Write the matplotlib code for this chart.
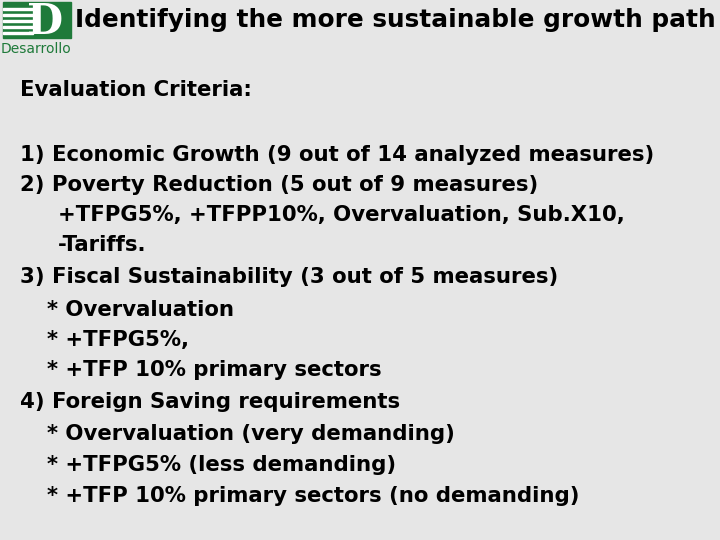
import matplotlib
matplotlib.use("Agg")
import matplotlib.pyplot as plt
from matplotlib.patches import Rectangle

title = "Identifying the more sustainable growth path"
heading = "Evaluation Criteria:"
lines = [
    (20, 155, "1) Economic Growth (9 out of 14 analyzed measures)"),
    (20, 185, "2) Poverty Reduction (5 out of 9 measures)"),
    (58, 215, "+TFPG5%, +TFPP10%, Overvaluation, Sub.X10,"),
    (58, 245, "-Tariffs."),
    (20, 277, "3) Fiscal Sustainability (3 out of 5 measures)"),
    (47, 310, "* Overvaluation"),
    (47, 340, "* +TFPG5%,"),
    (47, 370, "* +TFP 10% primary sectors"),
    (20, 402, "4) Foreign Saving requirements"),
    (47, 434, "* Overvaluation (very demanding)"),
    (47, 465, "* +TFPG5% (less demanding)"),
    (47, 496, "* +TFP 10% primary sectors (no demanding)"),
]

fig = plt.figure(figsize=(7.2, 5.4), dpi=100)
fig.patch.set_facecolor("#e6e6e6")
ax = fig.add_axes([0, 0, 1, 1])
ax.set_xlim(0, 720)
ax.set_ylim(540, 0)
ax.axis("off")

# logo
ax.add_patch(Rectangle((3, 2), 68, 36, color="#1f7a3a"))
for yy in (8, 14, 20, 26, 32):
    ax.add_patch(Rectangle((3, yy), 30, 1.5, color="white"))
ax.text(45, 22, "D", color="white", fontsize=30, fontweight="bold", ha="center", va="center", family="DejaVu Serif")
ax.text(36, 49, "Desarrollo", color="#1f7a3a", fontsize=10, ha="center", va="center")

ax.text(75, 20, title, fontsize=17.8, fontweight="bold", ha="left", va="center")
ax.text(20, 90, heading, fontsize=15.3, fontweight="bold", ha="left", va="center")
for x, y, t in lines:
    ax.text(x, y, t, fontsize=15.3, fontweight="bold", ha="left", va="center")

fig.savefig("out.png", dpi=100, facecolor=fig.get_facecolor())
